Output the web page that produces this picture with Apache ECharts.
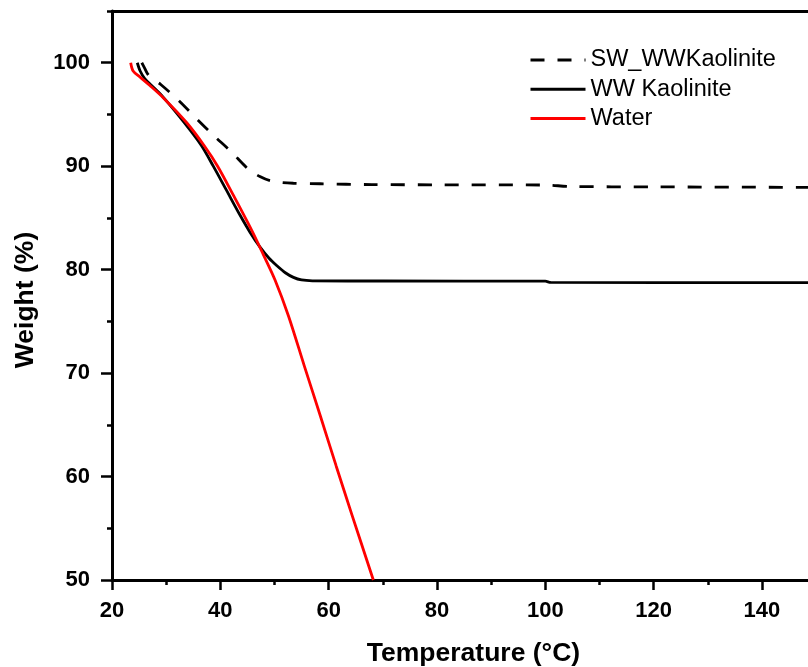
<!DOCTYPE html>
<html>
<head>
<meta charset="utf-8">
<script src="https://cdn.jsdelivr.net/npm/echarts@6/dist/echarts.min.js"></script>
<style>
  html, body { margin: 0; padding: 0; background: #fff; }
  #chart { width: 808px; height: 667px; }
</style>
</head>
<body>
<div id="chart"></div>
<script>
// Thermogravimetric weight-loss curves

// Tick positions
const xMajorTicks = [20, 40, 60, 80, 100, 120, 140];
const xMinorTicks = [30, 50, 70, 90, 110, 130];
const yMajorTicks = [50, 60, 70, 80, 90, 100];
const yMinorTicks = [55, 65, 75, 85, 95, 105];

// SW_WWKaolinite
const swTemp   = [25.5, 26.0, 26.6, 27.6, 29.0, 32.4, 35.6, 38.7, 42.0, 45.2, 47.3, 49.2, 51.2, 53.5, 58.4, 68.0, 80.0, 100.0, 104.5, 120.0, 148.5];
const swWeight = [100.0, 99.5, 98.9, 98.4, 97.9, 96.3, 94.6, 93.0, 91.4, 89.7, 89.0, 88.6, 88.42, 88.35, 88.3, 88.22, 88.2, 88.18, 88.04, 88.0, 87.95];

// WW Kaolinite
const wwTemp   = [24.67, 25.2, 26.0, 27.3, 29.4, 33.2, 36.5, 38.7, 41.0, 43.6, 45.5, 47.3, 49.0, 50.4, 52.0, 53.5, 55.0, 57.0, 70.0, 100.0, 101.0, 148.5];
const wwWeight = [100.0, 99.2, 98.5, 97.8, 96.7, 94.3, 92.0, 90.0, 87.8, 85.3, 83.6, 82.2, 81.1, 80.4, 79.7, 79.25, 79.0, 78.92, 78.9, 78.88, 78.76, 78.74];

// Water
const waterTemp   = [23.45, 23.9, 25.2, 27.0, 29.5, 33.8, 37.0, 39.5, 42.4, 45.8, 47.9, 50.1, 52.6, 55.5, 58.5, 61.4, 64.3, 68.25];
const waterWeight = [100.0, 99.2, 98.6, 97.8, 96.6, 94.2, 92.0, 90.0, 87.2, 83.8, 81.5, 79.0, 75.5, 70.7, 65.8, 61.0, 56.3, 50.0];

const seriesNames = ['SW_WWKaolinite', 'WW Kaolinite', 'Water'];

function pairs(xs, ys) {
  return xs.map((x, i) => [x, ys[i]]);
}

const FONT = '"Liberation Sans", Arial, sans-serif';
const X_MIN = 20, X_MAX = 148.5, Y_MIN = 50, Y_MAX = 105;

const chart = echarts.init(document.getElementById('chart'), null, { renderer: 'canvas' });

const axisLine = { show: true, lineStyle: { color: '#000', width: 3 } };

chart.setOption({
  animation: false,
  backgroundColor: '#fff',
  grid: { left: 112, top: 11, right: 0, bottom: 87, containLabel: false, outerBoundsMode: 'none' },
  legend: {
    orient: 'vertical',
    left: 529,
    top: 48,
    padding: 0,
    itemWidth: 55,
    itemHeight: 14,
    itemGap: 5.3,
    selectedMode: false,
    itemStyle: { opacity: 0 },
    lineStyle: { width: 3 },
    textStyle: { fontFamily: FONT, fontSize: 23.5, color: '#000' },
    data: seriesNames
  },
  xAxis: [
    {
      type: 'value', position: 'bottom', min: X_MIN, max: X_MAX,
      axisLine: axisLine,
      axisTick: { show: true, inside: false, length: 10, customValues: xMajorTicks, lineStyle: { color: '#000', width: 2.5 } },
      axisLabel: { show: true, customValues: xMajorTicks, margin: 20, color: '#000', fontFamily: FONT, fontWeight: 'bold', fontSize: 22 },
      splitLine: { show: false },
      name: 'Temperature (°C)', nameLocation: 'middle', nameGap: 60,
      nameTextStyle: { fontFamily: FONT, fontWeight: 'bold', fontSize: 26.5, color: '#000', padding: [0, 0, 0, 27] }
    },
    {
      type: 'value', position: 'bottom', min: X_MIN, max: X_MAX,
      axisLine: { show: false },
      axisTick: { show: true, inside: false, length: 5, customValues: xMinorTicks, lineStyle: { color: '#000', width: 2.5 } },
      axisLabel: { show: false },
      splitLine: { show: false }
    },
    {
      type: 'value', position: 'top', min: X_MIN, max: X_MAX,
      axisLine: axisLine,
      axisTick: { show: false },
      axisLabel: { show: false },
      splitLine: { show: false }
    }
  ],
  yAxis: [
    {
      type: 'value', position: 'left', min: Y_MIN, max: Y_MAX,
      axisLine: axisLine,
      axisTick: { show: true, inside: false, length: 11, customValues: yMajorTicks, lineStyle: { color: '#000', width: 2.5 } },
      axisLabel: { show: true, customValues: yMajorTicks, margin: 22, color: '#000', fontFamily: FONT, fontWeight: 'bold', fontSize: 22 },
      splitLine: { show: false },
      name: 'Weight (%)', nameLocation: 'middle', nameGap: 73,
      nameTextStyle: { fontFamily: FONT, fontWeight: 'bold', fontSize: 26.5, color: '#000', padding: [0, 9, 0, 0] }
    },
    {
      type: 'value', position: 'left', min: Y_MIN, max: Y_MAX,
      axisLine: { show: false },
      axisTick: { show: true, inside: false, length: 5, customValues: yMinorTicks, lineStyle: { color: '#000', width: 2.5 } },
      axisLabel: { show: false },
      splitLine: { show: false }
    }
  ],
  series: [
    {
      name: seriesNames[0], type: 'line', xAxisIndex: 0, yAxisIndex: 0,
      data: pairs(swTemp, swWeight),
      symbol: 'none', smooth: 0.3,
      lineStyle: { color: '#000', width: 2.8, type: [14, 13] },
      itemStyle: { color: '#000' }
    },
    {
      name: seriesNames[1], type: 'line', xAxisIndex: 0, yAxisIndex: 0,
      data: pairs(wwTemp, wwWeight),
      symbol: 'none', smooth: 0.3,
      lineStyle: { color: '#000', width: 2.8 },
      itemStyle: { color: '#000' }
    },
    {
      name: seriesNames[2], type: 'line', xAxisIndex: 0, yAxisIndex: 0,
      data: pairs(waterTemp, waterWeight),
      symbol: 'none', smooth: 0.3,
      lineStyle: { color: '#ff0000', width: 2.8 },
      itemStyle: { color: '#ff0000' }
    }
  ]
});
</script>
</body>
</html>
